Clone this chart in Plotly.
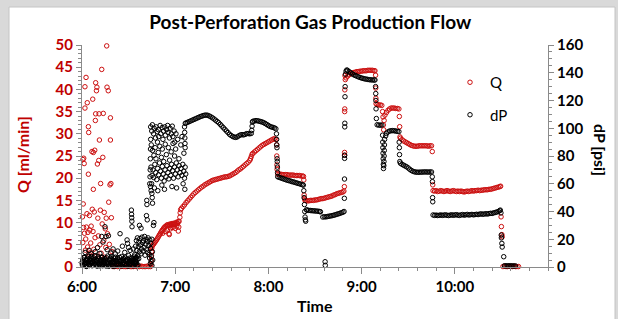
import pandas as pd
import plotly.graph_objects as go

# ---------------- data (minutes after 6:00, value) ----------------
# Q [ml/min] – early scattered readings
q_scatter = [(0.3,11.3),(0.5,5.5),(0.6,24.2),(0.8,14.2),(1.0,8.9),(1.1,24.5),(1.3,2.1),(1.4,23.3),(1.6,7.6),(1.9,35.8),
             (1.9,40.6),(2.2,3.8),(2.4,6.3),(2.6,42.7),(2.8,9.0),(3.0,1.5),(3.2,12.0),(3.4,37.0),(3.6,4.5),(3.8,7.8),
             (4.1,31.6),(4.1,20.9),(4.3,30.3),(4.5,2.9),(4.8,11.6),(5.0,8.3),(5.3,3.2),(5.6,5.4),(5.9,9.2),(6.2,1.0),
             (6.4,26.0),(6.6,13.0),(6.9,37.8),(7.1,8.0),(7.3,17.5),(7.3,25.8),(7.6,4.0),(7.9,12.4),(8.2,26.3),(8.4,6.6),
             (8.6,33.0),(8.8,34.5),(8.8,41.5),(9.0,2.4),(9.3,39.7),(9.6,40.5),(9.9,23.2),(10.2,11.0),(10.5,7.0),(10.8,24.0),
             (11.0,34.5),(11.2,28.6),(11.5,5.0),(11.8,12.8),(12.0,18.8),(12.3,3.1),(12.7,44.5),(13.0,9.7),(13.4,24.7),(13.7,34.6),
             (14.0,6.0),(14.3,12.3),(14.6,2.2),(15.0,8.6),(15.3,4.4),(15.6,11.0),(15.9,49.8),(16.1,40.5),(16.4,7.5),(16.9,39.7),
             (17.2,14.6),(17.6,5.1),(18.0,18.5),(18.3,33.6),(18.3,28.6),(18.6,18.8),(18.9,11.1),(19.2,3.5),(19.5,1.2)]
q_idle = [(20,0.1),(21,0.1),(22,0.2),(23,0.1),(24,0.1),(25,0.1),(26,0.2),(27,0.1),(28,0.1),(29,0.1),(30,0.2),(31,0.1),
          (32,0.1),(33,0.1),(34,0.2),(35,0.1),(36,0.1),(37,0.1),(38,0.2),(39,0.1),(40,0.1),(41,0.1),(42,0.2),(43,0.1),(44,0.1)]
q_main = [(44.5,0.6),(44.6,1.6),(44.7,2.6),(44.8,3.5),(44.9,4.2),
          (45,4.6),(45.5,4.9),(46,5.1),(46.5,5.4),(47,5.6),(47.5,5.9),(48,6.1),(48.5,6.4),(49,6.7),(49.5,7.0),(50,7.3),
          (50.5,7.6),(51,7.9),(51.5,8.2),(52,8.4),(52.5,8.7),(53,8.9),(53.5,9.1),(54,9.2),(54.5,9.4),(55,9.5),(55.5,9.3),
          (56,9.6),(56.5,9.4),(57,9.7),(57.5,9.5),(58,9.8),(58.5,9.6),(59,9.7),(59.5,9.9),(60,9.6),(60.5,9.9),(61,10.1),
          (61.5,9.8),(62,10.2),(62.5,10.3),
          (52,7.6),(53.5,8.0),(55,8.3),(56,7.5),(57,8.6),(58,8.9),(59,9.0),(60,8.7),(61,9.2),(62,8.1),(62.3,9.0),(56.2,7.3),
          (63,11.2),(63.2,12.2),(63.5,12.9),(64,13.2),(65,13.6),(66,14.0),(67,14.5),(68,14.9),(69,15.3),(70,15.7),(71,16.1),
          (72,16.5),(73,16.8),(74,17.1),(75,17.4),(76,17.7),(77,18.0),(78,18.2),(79,18.5),(80,18.7),(81,18.9),(82,19.1),
          (83,19.3),(84,19.5),(85,19.6),(86,19.7),(87,19.8),(88,19.9),(89,20.0),(90,20.1),(91,20.2),(92,20.3),(93,20.3),
          (94,20.4),(95,20.5),(96,20.7),(97,20.9),(98,21.1),(99,21.3),(100,21.6),(101,21.9),(102,22.1),(103,22.4),(104,22.7),
          (105,23.0),(106,23.3),(107,23.6),(108,24.0),(108.5,24.4),(109,24.9),(109.5,25.4),(110,25.6),(111,25.9),(112,26.2),
          (113,26.5),(114,26.8),(115,27.1),(116,27.4),(117,27.6),(118,27.8),(119,28.0),(120,28.2),(121,28.4),(122,28.6),
          (123,28.8),(124,28.9),(124.8,28.7),
          (125.3,27.5),(125.4,25.0),(125.5,23.0),(125.6,22.0),
          (126,20.9),(127,20.9),(128,20.9),(129,20.8),(130,20.8),(131,20.8),(132,20.8),(133,20.7),(134,20.7),(135,20.7),
          (136,20.7),(137,20.6),(138,20.6),(139,20.6),(140,20.6),(141,20.5),(142,20.5),(142.6,20.4),
          (142.8,19.6),(143,16.2),(143.3,15.4),(143.6,15.0),
          (144,15.0),(145,14.9),(146,14.9),(147,15.0),(148,15.0),(149,15.0),(150,15.1),(151,15.1),(152,15.2),(153,15.3),
          (154,15.4),(155,15.4),(156,15.5),(157,15.6),(158,15.7),(159,15.8),(160,15.9),(161,16.0),(162,16.2),(163,16.3),
          (164,16.5),(165,16.6),(166,16.7),(167,16.8),(168,16.9),(168.6,17.1),
          (168.9,18.1),(169.0,25.2),(169.05,25.8),(169.1,35.0),(169.15,35.6),(169.2,39.9),(169.3,43.1),(169.5,42.2),
          (170,42.6),(171,43.0),(172,43.3),(173,43.5),(174,43.7),(175,43.8),(176,43.9),(177,44.0),(178,44.0),(179,44.1),
          (180,44.1),(181,44.2),(182,44.2),(183,44.2),(184,44.3),(185,44.3),(186,44.3),(187,44.3),(188,44.2),(188.6,44.2),
          (189,43.2),(189.1,40.3),(189.2,38.0),(189.3,36.8),
          (190,36.6),(191,36.5),(192,36.5),(193,36.4),(193.5,35.0),(193.8,33.8),(194,32.0),(194.2,30.9),(194.5,33.0),
          (195,34.2),(196,34.8),(197,35.3),(198,35.6),(199,35.8),(200,35.8),(201,35.8),(202,35.7),(203,35.7),(204,35.6),
          (204.3,33.9),(204.5,31.6),(204.7,29.3),(205,29.0),(206,28.7),(207,28.4),(208,28.2),(209,28.0),(210,27.8),
          (211,27.6),(212,27.4),(213,27.3),(214,27.2),(215,27.2),(216,27.2),(217,27.3),(218,27.3),(219,27.3),(220,27.3),
          (221,27.3),(222,27.3),(223,27.2),(224,27.3),(225,27.3),
          (225.5,26.0),(225.8,18.5),
          (226,17.2),(227,17.1),(228,17.2),(229,17.0),(230,17.1),(231,17.2),(232,17.1),(233,17.0),(234,17.1),(235,17.2),
          (236,17.1),(237,17.0),(238,17.1),(239,17.2),(240,17.1),(241,17.0),(242,17.1),(243,17.0),(244,17.1),(245,17.0),
          (246,16.9),(247,17.0),(248,17.1),(249,17.0),(250,17.1),(251,17.2),(252,17.1),(253,17.2),(254,17.2),(255,17.3),
          (256,17.2),(257,17.3),(258,17.3),(259,17.4),(260,17.4),(261,17.4),(262,17.5),(263,17.5),(264,17.6),(265,17.7),
          (266,17.8),(267,17.9),(268,18.0),(269,18.1),(269.5,18.2),
          (269.8,11.3),(270,9.1),(270.3,7.3),(270.5,6.8),
          (271,0.1),(272,0.2),(273,0.1),(274,0.1),(275,0.2),(276,0.1),(277,0.1),(278,0.2),(279,0.1),(280,0.1),(281,0.1)]

# dP [psi] – early noisy band
dp_band_a = [(0.0,3.1),(0.5,5.6),(1.0,1.2),(1.5,7.0),(2.0,2.4),(2.5,4.8),(3.0,0.6),(3.5,6.2),(4.0,3.7),(4.5,1.8),
             (5.0,5.1),(5.5,2.9),(6.0,7.6),(6.5,0.9),(7.0,4.3),(7.5,6.5),(8.0,2.2),(8.5,3.9),(9.0,5.8),(9.5,1.4),
             (10.0,4.6),(10.5,7.3),(11.0,2.7),(11.5,0.8),(12.0,5.3),(12.5,3.4),(13.0,6.8),(13.5,1.9),(14.0,4.1),(14.5,2.5),
             (15.0,5.9),(15.5,0.7),(16.0,3.6),(16.5,7.9),(17.0,2.1),(17.5,4.9),(18.0,1.3),(18.5,6.1),(19.0,3.2),(19.5,5.5),
             (20.0,0.5),(20.5,4.4),(21.0,2.8),(21.5,7.1),(22.0,1.6),(22.5,3.8),(23.0,6.4),(23.5,2.3),(24.0,5.0),(24.5,0.9),
             (25.0,4.2),(25.5,7.5),(26.0,1.7),(26.5,3.3),(27.0,6.0),(27.5,2.6),(28.0,4.7),(28.5,1.1),(29.0,5.7),(29.5,3.0),
             (30.0,8.2),(30.5,1.9),(31.0,4.5),(31.5,2.0),(32.0,6.6),(32.5,3.5),(33.0,0.8),(33.5,5.2),(34.0,2.4),(34.5,4.0),
             (35.0,6.9)]
dp_band_b = [(0.25,1.5),(0.75,4.2),(1.25,6.8),(1.75,2.0),(2.25,3.5),(2.75,0.4),(3.25,5.4),(3.75,2.9),(4.25,7.7),(4.75,1.0),
             (5.25,4.0),(5.75,6.3),(6.25,2.6),(6.75,3.7),(7.25,1.2),(7.75,5.0),(8.25,8.0),(8.75,2.2),(9.25,4.8),(9.75,0.6),
             (10.25,3.1),(10.75,6.0),(11.25,1.8),(11.75,4.5),(12.25,2.7),(12.75,7.2),(13.25,0.9),(13.75,5.6),(14.25,3.3),
             (14.75,1.4),(15.25,4.9),(15.75,6.7),(16.25,2.1),(16.75,3.6),(17.25,0.5),(17.75,5.3),(18.25,2.8),(18.75,7.4),
             (19.25,1.6),(19.75,4.1),(20.25,3.0),(20.75,6.2),(21.25,0.7),(21.75,4.6),(22.25,2.3),(22.75,5.8),(23.25,1.1),
             (23.75,3.9),(24.25,6.9),(24.75,2.5),(25.25,4.4),(25.75,0.8),(26.25,5.5),(26.75,3.2),(27.25,1.9),(27.75,7.0),
             (28.25,4.3),(28.75,2.0),(29.25,5.1),(29.75,0.6),(30.25,3.7),(30.75,6.4),(31.25,2.9),(31.75,4.7),(32.25,1.3),
             (32.75,5.9),(33.25,3.4),(33.75,7.8),(34.25,2.2),(34.75,4.9),(35.25,1.0)]
dp_scatter = [(2.0,10.5),(4.5,12.0),(6.0,9.5),(8.5,11.0),(10.0,14.0),(11.5,9.8),(12.7,22.0),(13.5,18.0),(14.8,29.0),
              (15.5,22.0),(16.2,12.5),(17.0,22.5),(18.5,10.0),(20.0,13.0),(21.5,9.5),(23.0,11.5),(24.5,24.0),(26.0,15.0),
              (27.5,10.5),(29.0,19.5),(29.3,17.0),(30.0,14.0),(31.0,12.0),(31.8,41.0),(31.9,38.0),(32.0,35.5),(32.1,33.0),
              (32.2,29.0),(33.0,13.0),(37.0,30.0),(38.0,28.0),(41.7,48.0),(41.8,45.0),(41.5,37.0),(42.0,34.0),(44.5,55.0),
              (44.8,60.0),(45.0,53.0),(45.2,50.0),(45.4,46.0),(46.0,30.0),(46.3,32.0),
              (34.0,9.0),(34.5,15.0),(35.0,19.0),(35.3,12.0),(35.7,21.0),(36.0,8.0),(36.3,14.5),(36.6,18.0),(37.0,11.0),
              (37.3,20.5),(37.6,16.0),(38.0,9.5),(38.3,13.0),(38.6,21.5),(39.0,17.5),(39.3,11.5),(39.6,19.0),(40.0,14.0),
              (40.3,22.0),(40.6,8.5),(41.0,16.5),(41.3,20.0),(41.6,12.5),(42.0,18.5),(42.3,10.5),(42.6,21.0),(43.0,15.5),
              (43.3,9.0),(43.6,19.5),(44.0,13.5),(44.3,17.0),(44.6,7.5),(45.0,20.0),(45.3,11.0),(35.0,3.0),(35.5,5.5),
              (36.0,1.5),(44.0,2.5),(44.5,4.0),(45.0,1.0),(34.5,6.5),(36.5,6.0),(43.5,6.5),(45.5,5.0)]
dp_cloud = [(44.2,101),(44.9,98),(45.3,102.5),(46.1,96),(46.4,100),(47.3,93),(47.7,101),(48.4,97.5),(49.1,99),(49.4,94),
            (50.3,102),(50.7,96),(51.6,100.5),(52.1,92),(52.5,98),(53.3,101),(53.7,95),(54.5,99),(55.1,102),(55.4,97),
            (56.3,93),(56.7,100),(57.5,96),(58.1,101.5),(58.5,94),(59.3,98),(59.7,90),(60.5,96),
            (44.6,88),(45.4,84),(46.3,80.5),(47.1,86),(47.6,78),(48.6,90),(49.1,82.5),(50.1,87),(51.1,79),(51.7,85),
            (52.6,76),(53.6,88.5),(54.3,81),(55.6,86),(56.4,77),(57.4,83),(58.6,89),(59.6,80),(60.3,85),(61.6,92),
            (62.4,78),(63.6,88),(64.4,94),(65.6,82),
            (44.4,72),(45.1,66),(45.7,70),(46.2,64.5),(46.9,74),(47.5,68),(48.1,63),(48.7,71),(49.3,66.5),(49.9,75),
            (50.5,69),(51.1,64),(51.7,72.5),(52.3,67),(52.9,62),(53.5,70),(54.1,65),(54.7,73),(55.3,68),(55.9,63.5),
            (56.5,71),(57.1,66),(57.7,74),(58.3,69.5),(58.9,64),(59.5,72),(60.1,67),(60.7,75),(61.3,70),(61.9,65),
            (62.5,73),(63.1,68),(63.7,71),(64.3,66),(64.9,74),(65.5,69),(66.0,64),(66.4,72),(66.8,67),
            (44.1,58),(46.6,57),(48.8,55),(51.4,59),(53.1,56),(57.9,58),(60.9,57),(65.1,60),(66.2,56),
            (43.6,60),(43.8,65),(43.9,70),(44.0,78),(44.1,85),(44.2,92)]
dp_main = [(66.0,101),(66.1,97),(66.2,93),(66.3,89),(66.4,86),
           (66.5,103.5),(67,103.8),(68,104.3),(69,104.8),(70,105.3),(71,105.8),(72,106.3),(73,106.8),(74,107.3),
           (75,107.8),(76,108.3),(77,108.7),(78,109.1),(79,109.4),(80,109.5),(81,109.3),(82,108.8),(83,108.2),(84,107.5),
           (85,106.7),(86,105.8),(87,104.9),(88,104.0),(89,102.8),(90,101.6),(91,100.4),(92,99.2),(93,98.0),(94,96.9),
           (95,95.6),(96,94.8),(97,94.1),(98,93.6),(99,93.4),(100,93.8),(101,94.6),(102,95.2),(103,95.4),(104,95.2),
           (105,95.6),(106,96.1),(107,96.2),(108,96.0),(109,96.3),(109.3,98.5),(109.5,101.5),(109.7,104.5),(110,105.0),
           (111,105.3),(112,105.5),(113,105.4),(114,105.1),(115,104.8),(116,104.5),(117,104.0),(118,103.4),(119,102.7),
           (120,102.0),(121,101.3),(122,100.9),(123,100.6),(124,100.2),(124.8,99.6),
           (125.2,96),(125.3,92),(125.4,88),(125.5,86),(125.6,78),(125.7,76),(125.8,72),(125.9,68),
           (126,65.0),(127,64.6),(128,64.2),(129,63.8),(130,63.4),(131,63.0),(132,62.6),(133,62.3),(134,62.0),(135,61.6),
           (136,61.3),(137,61.0),(138,60.6),(139,60.3),(140,60.0),(141,59.6),(142,59.3),(142.5,59.0),
           (142.8,55),(143,50),(143.2,45),(143.4,40),(143.6,36),(143.8,34),(144,33),
           (144.5,41.2),(145,41.0),(146,40.8),(147,40.7),(148,40.6),(149,40.5),(150,40.4),(151,40.3),(152,40.2),
           (153,40.0),(153.5,39.8),
           (155,36.0),(156,36.2),(157,36.1),(158,36.4),(159,36.6),(160,36.8),(161,37.0),(162,37.3),(163,37.6),(164,38.0),
           (165,38.3),(166,38.7),(167,39.1),(168,39.5),(168.7,40.0),
           (156.5,3.8),(156.6,1.2),
           (168.9,49.5),(169.0,63.4),(169.05,78.3),(169.1,80.5),(169.15,101),(169.2,103.6),(169.3,122.7),(169.4,130),
           (169.6,139),(170,141.2),(170.5,142),(171,141.6),(172,140.8),(173,140.0),(174,139.2),(175,138.5),(176,138.0),
           (177,137.5),(178,137.0),(179,136.6),(180,136.2),(181,135.9),(182,135.6),(183,135.4),(184,135.2),(185,135.0),
           (186,134.9),(187,134.8),(188,134.8),(188.6,134.8),
           (189,130),(189.1,125),(189.2,120),(189.3,114),(189.5,107),
           (190,102.5),(191,102.3),(192,102.2),(193,102.3),
           (193.5,95),(193.6,90),(193.7,86),(193.8,82),(193.9,78),(194,74),(194.1,71),(194.3,73),(194.4,76),(194.5,80),
           (194.6,84),(194.7,88),(194.8,92),
           (195.5,94.5),(196,96.3),(197,97.4),(198,98.0),(199,98.2),(200,98.3),(201,98.2),(202,98.0),(203,97.8),(204,97.6),
           (204.2,90),(204.3,86),(204.4,81),(204.6,76),
           (205,74.8),(206,74.0),(207,73.4),(208,72.8),(209,72.2),(210,71.4),(211,70.4),(212,69.6),(213,69.0),(214,68.6),
           (215,68.4),(216,68.3),(217,68.3),(218,68.4),(219,68.4),(220,68.5),(221,68.5),(222,68.5),(223,68.4),(224,68.5),
           (225,68.5),
           (225.5,65),(225.6,61.5),(225.7,50),(225.8,47),
           (226,37.5),(227,37.2),(228,37.4),(229,37.1),(230,37.3),(231,37.5),(232,37.2),(233,37.4),(234,37.6),(235,37.3),
           (236,37.1),(237,37.4),(238,37.6),(239,37.3),(240,37.5),(241,37.7),(242,37.4),(243,37.2),(244,37.5),(245,37.8),
           (246,37.4),(247,37.6),(248,37.9),(249,37.5),(250,37.7),(251,37.9),(252,37.6),(253,37.8),(254,38.0),(255,37.8),
           (256,38.1),(257,38.3),(258,38.0),(259,38.2),(260,38.4),(261,38.2),(262,38.5),(263,38.7),(264,38.6),(265,39.0),
           (266,39.3),(267,39.6),(268,40.0),(268.8,40.6),(269.3,41.0),
           (269.7,39),(269.9,23),(270,21),(270.3,17),(270.5,14.4),(271.5,7.4),
           (272,0.9),(273,0.8),(274,0.9),(275,0.8),(276,0.9),(277,0.8),(278,0.7),(279,0.8)]

START = "2000-01-01 06:00"
END = "2000-01-01 11:00"
TICK_TIMES = ["2000-01-01 06:00", "2000-01-01 07:00", "2000-01-01 08:00", "2000-01-01 09:00", "2000-01-01 10:00"]
TICK_LABELS = ["6:00", "7:00", "8:00", "9:00", "10:00"]
TITLE = "Post-Perforation Gas Production Flow"

# ---------------- build ----------------
t0 = pd.Timestamp(START)

def unpack(pairs):
    xs = [t0 + pd.Timedelta(minutes=m) for m, _ in pairs]
    ys = [v for _, v in pairs]
    return xs, ys

qx, qy = unpack(q_scatter + q_idle + q_main)
dx, dy = unpack(dp_band_a + dp_band_b + dp_scatter + dp_cloud + dp_main)

RED = "#cc1010"
RED_TXT = "#c00000"
GREY = "#8a8a8a"
FONT = "Lato"

fig = go.Figure()
fig.add_trace(go.Scatter(x=qx, y=qy, mode="markers", name="Q", legendgroup="q", cliponaxis=False,
                         marker=dict(symbol="circle-open", size=4.5, color=RED, line=dict(width=1))))
fig.add_trace(go.Scatter(x=dx, y=dy, mode="markers", name="dP", legendgroup="dp", yaxis="y2", cliponaxis=False,
                         marker=dict(symbol="circle-open", size=4.5, color="black", line=dict(width=1))))

PL, PR, PT, PB = 82, 548, 45, 267
W, H = 618, 319
def px(xp):
    return (xp - PL) / (PR - PL)
def py(yp):
    return (PB - yp) / (PB - PT)

fig.update_layout(
    width=W, height=H, autosize=False,
    margin=dict(l=PL, r=W - PR, t=PT, b=H - PB),
    paper_bgcolor="#d9d9d9", plot_bgcolor="white",
    font=dict(family=FONT, size=14, color="black"),
    title=dict(text=TITLE, x=0.502, xanchor="center", xref="container", y=1 - 22 / H, yanchor="middle",
               yref="container", font=dict(family=FONT, size=19, weight="bold", color="black")),
    showlegend=True,
    legend=dict(x=px(450), y=py(66), xanchor="left", yanchor="top", bgcolor="rgba(0,0,0,0)",
                font=dict(family=FONT, size=15, color="black"), tracegroupgap=10, itemsizing="trace"),
    xaxis=dict(type="date", range=[START, END], tickmode="array", tickvals=TICK_TIMES, ticktext=TICK_LABELS,
               ticks="outside", ticklen=6, tickwidth=1, tickcolor=GREY, showline=True, linecolor=GREY, linewidth=1,
               showgrid=False, zeroline=False,
               tickfont=dict(family=FONT, size=15, weight="bold", color="black"),
               minor=dict(tickmode="linear", tick0=START, dtick=12 * 60000, ticks="outside", ticklen=3,
                          tickcolor=GREY, showgrid=False)),
    yaxis=dict(range=[0, 50], dtick=5, tick0=0, ticks="outside", ticklen=5, tickwidth=1, tickcolor=GREY,
               showline=True, linecolor=GREY, linewidth=1, showgrid=False, zeroline=False,
               tickfont=dict(family=FONT, size=15, weight="bold", color=RED_TXT),
               minor=dict(dtick=1, ticks="outside", ticklen=3, tickcolor=GREY, showgrid=False)),
    yaxis2=dict(range=[0, 160], dtick=20, tick0=0, overlaying="y", side="right", ticks="outside", ticklen=5,
                tickwidth=1, tickcolor=GREY, showline=True, linecolor=GREY, linewidth=1, showgrid=False,
                zeroline=False, tickfont=dict(family=FONT, size=15, weight="bold", color="black"),
                minor=dict(dtick=5, ticks="outside", ticklen=3, tickcolor=GREY, showgrid=False)),
    shapes=[dict(type="rect", xref="paper", yref="paper", x0=px(9), x1=px(615), y0=py(330), y1=py(7),
                 fillcolor="white", line=dict(color="#c4c4c4", width=1), layer="below")],
    annotations=[
        dict(text="Q [ml/min]", xref="paper", yref="paper", x=px(22), y=py(155), textangle=-90, showarrow=False,
             font=dict(family=FONT, size=16, weight="bold", color=RED_TXT), xanchor="center", yanchor="middle"),
        dict(text="dP [psi]", xref="paper", yref="paper", x=px(601), y=py(150), textangle=90, showarrow=False,
             font=dict(family=FONT, size=16, weight="bold", color="black"), xanchor="center", yanchor="middle"),
        dict(text="Time", xref="paper", yref="paper", x=px(315), y=py(305), showarrow=False,
             font=dict(family=FONT, size=16, weight="bold", color="black"), xanchor="center", yanchor="middle"),
    ],
)

fig.write_html("out.html", config={"displayModeBar": False},
               post_script="document.body.style.margin='0px';")
